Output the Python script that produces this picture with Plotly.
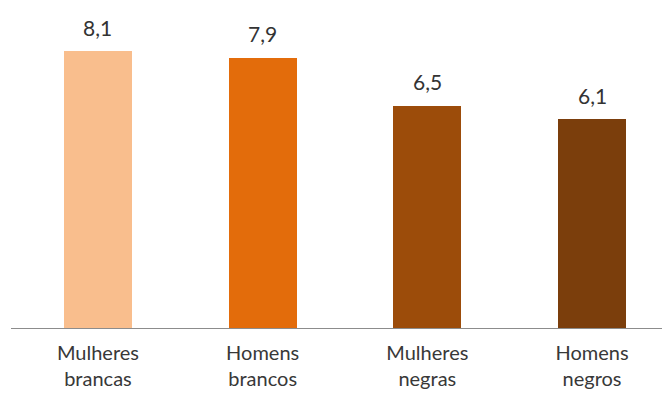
import plotly.graph_objects as go

categories = ["Mulheres<br>brancas", "Homens<br>brancos", "Mulheres<br>negras", "Homens<br>negros"]
values = [8.1, 7.9, 6.5, 6.1]
value_labels = ["8,1", "7,9", "6,5", "6,1"]
colors = ["#F9BE8D", "#E36C0B", "#9C4C0A", "#7B3E0C"]

fig = go.Figure()
fig.add_trace(go.Bar(
    x=categories, y=values, marker=dict(color=colors, line=dict(width=0)),
    width=0.413, hoverinfo="skip",
))
for c, v, t in zip(categories, values, value_labels):
    fig.add_annotation(x=c, y=v, text=t, showarrow=False, yanchor="middle",
                       yshift=24, font=dict(family="Lato", size=21, color="#333333"))

fig.update_layout(
    width=662, height=407,
    margin=dict(l=11, r=0, t=10, b=79),
    paper_bgcolor="white", plot_bgcolor="white",
    showlegend=False,
    font=dict(family="Lato", size=20, color="#383838"),
    bargap=0,
)
fig.update_xaxes(range=[-0.528, 3.425], showline=True, linecolor="#8C8C8C", linewidth=1,
                 ticks="", showgrid=False, zeroline=False, ticklabelstandoff=7)
fig.update_yaxes(range=[0, 9.3], visible=False, showgrid=False, zeroline=False)

fig.write_html("out.html", config={"displayModeBar": False},
               post_script="document.body.style.margin='0';document.body.style.overflow='hidden';")
